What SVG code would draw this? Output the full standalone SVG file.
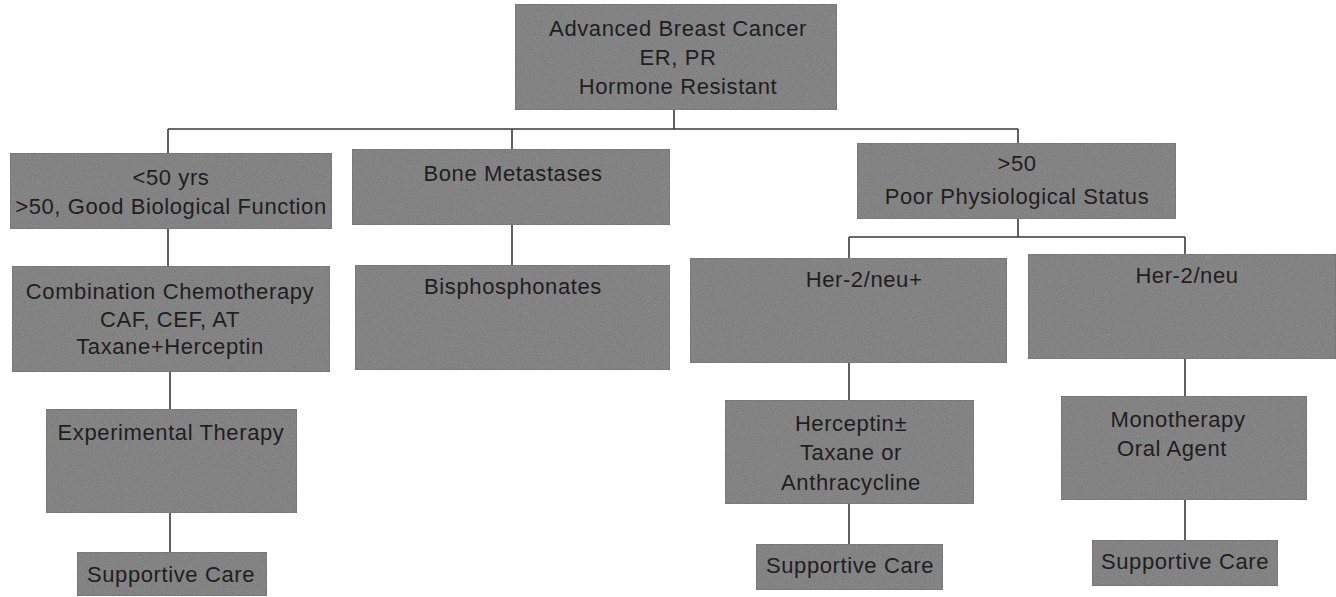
<svg xmlns="http://www.w3.org/2000/svg" width="1336" height="597" viewBox="0 0 1336 597">
<defs>
<filter id="grain" x="0" y="0" width="100%" height="100%">
<feTurbulence type="fractalNoise" baseFrequency="0.9" numOctaves="2" seed="3" result="n"/>
<feColorMatrix in="n" type="matrix" values="0 0 0 0 0  0 0 0 0 0  0 0 0 0 0  0 0 0 -1.2 1.1" result="dark"/>
<feComposite in="dark" in2="SourceGraphic" operator="in" result="d2"/>
<feComponentTransfer in="d2" result="d3"><feFuncA type="linear" slope="0.35"/></feComponentTransfer>
<feMerge><feMergeNode in="SourceGraphic"/><feMergeNode in="d3"/></feMerge>
</filter>
</defs>
<style>
.box{fill:#8f8f8f;stroke:#7a7a7a;stroke-width:1;filter:url(#grain)}
.t{font-family:"Liberation Sans",Arial,sans-serif;font-size:22px;letter-spacing:0.6px;fill:#1e1e1e;text-anchor:middle}
.c{stroke:#3a3a3a;stroke-width:1.6;fill:none}
</style>
<rect width="1336" height="597" fill="#ffffff"/>
<g id="connectors">
<path class="c" d="M674,110V129M168,129H1018M168,129V153M512,129V149M1018,129V143"/>
<path class="c" d="M168,229V266M512,225V265M170,372V409M170,513V552"/>
<path class="c" d="M1018,219V237M849,237H1185M849,237V258M1185,237V254"/>
<path class="c" d="M849,363V400M1185,359V396M849,504V544M1185,500V540"/>
</g>
<g id="root"><rect class="box" x="515" y="4" width="322" height="106"/>
<text class="t" x="678" y="36">Advanced Breast Cancer</text>
<text class="t" x="678" y="65">ER, PR</text>
<text class="t" x="678" y="94">Hormone Resistant</text></g>
<g id="young"><rect class="box" x="10" y="153" width="322" height="76"/>
<text class="t" x="171" y="185">&lt;50 yrs</text>
<text class="t" x="171" y="214">&gt;50, Good Biological Function</text></g>
<g id="bone"><rect class="box" x="352" y="149" width="318" height="76"/>
<text class="t" x="513" y="181">Bone Metastases</text></g>
<g id="old"><rect class="box" x="857" y="143" width="319" height="76"/>
<text class="t" x="1017" y="171">&gt;50</text>
<text class="t" x="1017" y="204">Poor Physiological Status</text></g>
<g id="combo"><rect class="box" x="12" y="266" width="318" height="106"/>
<text class="t" x="170" y="299">Combination Chemotherapy</text>
<text class="t" x="170" y="327">CAF, CEF, AT</text>
<text class="t" x="170" y="354">Taxane+Herceptin</text></g>
<g id="bisph"><rect class="box" x="355" y="265" width="315" height="105"/>
<text class="t" x="513" y="294">Bisphosphonates</text></g>
<g id="herpos"><rect class="box" x="690" y="258" width="317" height="105"/>
<text class="t" x="864" y="287">Her-2/neu+</text></g>
<g id="herneg"><rect class="box" x="1028" y="254" width="308" height="105"/>
<text class="t" x="1187" y="283">Her-2/neu</text></g>
<g id="exper"><rect class="box" x="46" y="409" width="251" height="104"/>
<text class="t" x="171" y="440">Experimental Therapy</text></g>
<g id="hercep"><rect class="box" x="725" y="400" width="249" height="104"/>
<text class="t" x="851" y="431">Herceptin±</text>
<text class="t" x="851" y="460">Taxane or</text>
<text class="t" x="851" y="490">Anthracycline</text></g>
<g id="mono"><rect class="box" x="1061" y="396" width="246" height="104"/>
<text class="t" x="1178" y="427">Monotherapy</text>
<text class="t" x="1172" y="456">Oral Agent</text></g>
<g id="care1"><rect class="box" x="77" y="552" width="190" height="44"/>
<text class="t" x="171" y="582">Supportive Care</text></g>
<g id="care2"><rect class="box" x="756" y="544" width="187" height="46"/>
<text class="t" x="850" y="573">Supportive Care</text></g>
<g id="care3"><rect class="box" x="1092" y="540" width="186" height="46"/>
<text class="t" x="1185" y="569">Supportive Care</text></g>
</svg>
